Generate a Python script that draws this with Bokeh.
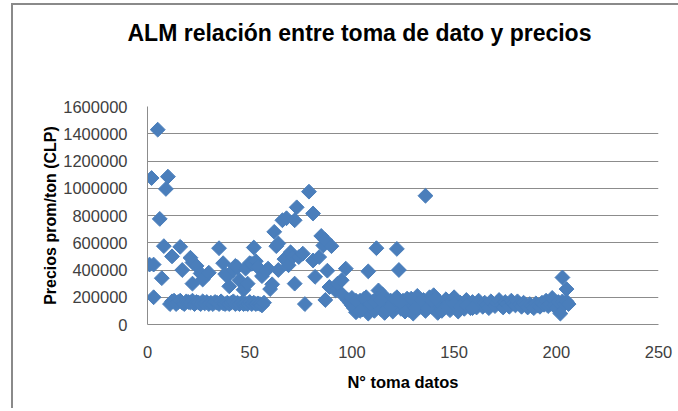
import math
from bokeh.plotting import figure
from bokeh.models import ColumnDataSource, FixedTicker, NumeralTickFormatter, Range1d, Title
from bokeh.embed import file_html
from bokeh.resources import INLINE

# --- data ---
# scattered points
toma_disp = [1, 2, 3, 3, 5, 6, 7, 8, 9, 10, 12, 16, 17, 21, 22, 22, 24, 26, 27, 30,
             35, 37, 38, 39, 40, 42, 43, 44, 45, 47, 48, 49, 50, 51, 52, 53, 54, 56, 58, 59,
             60, 61, 62, 63, 64, 64, 66, 67, 68, 69, 70, 71, 72, 72, 73, 74, 76, 77, 79, 81,
             81, 82, 84, 85, 86, 87, 87, 88, 89, 90, 92, 93, 95, 95, 97, 98, 99, 108, 112, 113,
             122, 123, 136, 203, 205]
precio_disp = [440000, 1075000, 440000, 200000, 1430000, 775000, 340000, 575000, 995000, 1085000,
               500000, 570000, 400000, 490000, 455000, 300000, 430000, 375000, 330000, 380000,
               560000, 450000, 370000, 355000, 280000, 400000, 430000, 420000, 325000, 255000,
               410000, 300000, 450000, 445000, 565000, 465000, 420000, 355000, 395000, 410000,
               260000, 295000, 680000, 575000, 595000, 400000, 765000, 480000, 780000, 435000,
               530000, 495000, 300000, 765000, 860000, 495000, 520000, 150000, 975000, 815000,
               470000, 350000, 495000, 650000, 580000, 620000, 180000, 395000, 275000, 575000,
               250000, 300000, 325000, 225000, 410000, 180000, 175000, 390000, 560000, 250000,
               555000, 400000, 945000, 345000, 260000]

# low band, first part
toma_banda1 = list(range(11, 58))
precio_banda1 = [150000, 170000, 175000, 150000, 165000, 175000, 160000, 150000, 170000, 165000,
                 160000, 175000, 150000, 165000, 160000, 150000, 170000, 155000, 165000, 150000,
                 160000, 150000, 165000, 160000, 150000, 170000, 155000, 150000, 160000, 150000,
                 160000, 170000, 150000, 160000, 150000, 160000, 150000, 155000, 150000, 165000,
                 150000, 160000, 150000, 155000, 150000, 140000, 160000]

# low band, second part
toma_banda2 = list(range(99, 207))
precio_banda2 = [160000, 195000, 120000, 90000, 150000, 175000, 110000, 140000, 200000, 80000,
                 130000, 165000, 100000, 190000, 145000, 115000, 220000, 85000, 150000, 120000,
                 175000, 95000, 140000, 200000, 160000, 115000, 175000, 130000, 190000, 105000,
                 150000, 80000, 170000, 210000, 125000, 145000, 180000, 100000, 160000, 200000,
                 130000, 215000, 110000, 85000, 165000, 140000, 120000, 185000, 150000, 105000,
                 170000, 200000, 130000, 95000, 160000, 140000, 115000, 180000, 150000, 120000,
                 165000, 140000, 125000, 175000, 150000, 130000, 160000, 145000, 120000, 170000,
                 155000, 135000, 160000, 180000, 140000, 125000, 165000, 150000, 130000, 175000,
                 155000, 140000, 170000, 150000, 130000, 160000, 145000, 125000, 150000, 135000,
                 120000, 155000, 140000, 130000, 160000, 145000, 175000, 135000, 150000, 195000,
                 140000, 120000, 165000, 80000, 170000, 150000, 170000, 150000]

toma_extra = [100, 102, 104, 106, 109, 111, 114, 117, 119, 121, 124, 126, 129, 131, 134, 137,
              139, 141, 144, 147, 150, 153, 156, 159]
precio_extra = [140000, 175000, 100000, 190000, 150000, 170000, 180000, 110000, 130000, 185000,
                155000, 95000, 190000, 120000, 175000, 120000, 175000, 190000, 100000, 125000,
                150000, 130000, 140000, 120000]

x_ticks = [0, 50, 100, 150, 200, 250]
y_ticks = [0, 200000, 400000, 600000, 800000, 1000000, 1200000, 1400000, 1600000]

titulo = "ALM relación entre toma de dato y precios"
eje_x = "N° toma datos"
eje_y = "Precios prom/ton (CLP)"

src = ColumnDataSource(dict(
    x=toma_disp + toma_banda1 + toma_banda2 + toma_extra,
    y=precio_disp + precio_banda1 + precio_banda2 + precio_extra,
))

GRID = "#8c8c8c"
FONT = "Liberation Sans"

p = figure(width=667, height=405, output_backend="svg", toolbar_location=None,
           x_range=Range1d(0, 250), y_range=Range1d(0, 1600000),
           min_border_left=134, min_border_right=22, min_border_top=101, min_border_bottom=86)
# chart-area frame: left and top edges are visible in the reference
p.styles = {"margin-left": "11px", "margin-top": "3px",
            "border-left": "2px solid #8a8a8a", "border-top": "2px solid #8a8a8a"}

# empty spacer between the plot frame and the title
p.add_layout(Title(text=" ", text_font_size="1px", standoff=58), "above")

p.title.text = titulo
p.title.align = "left"
p.title.offset = -20
p.title.standoff = 0
p.title.text_font = FONT
p.title.text_font_size = "23px"
p.title.text_font_style = "bold"
p.title.text_color = "#000000"

p.scatter(x="x", y="y", source=src, marker="square", size=10.5, angle=math.pi / 4,
          fill_color="#4A7EBB", line_color="#4A7EBB")

p.xgrid.visible = False
p.ygrid.grid_line_color = GRID
p.ygrid.ticker = FixedTicker(ticks=y_ticks)
p.outline_line_color = None
p.background_fill_color = "white"
p.border_fill_color = "white"

p.xaxis.ticker = FixedTicker(ticks=x_ticks)
p.yaxis.ticker = FixedTicker(ticks=y_ticks)
p.yaxis.formatter = NumeralTickFormatter(format="0")
for ax in (p.xaxis, p.yaxis):
    ax.axis_line_color = GRID
    ax.major_tick_line_color = None
    ax.minor_tick_line_color = None
    ax.major_tick_out = 0
    ax.major_tick_in = 0
    ax.major_label_text_font = FONT
    ax.major_label_text_font_size = "16.5px"
    ax.major_label_text_color = "#404040"
    ax.axis_label_text_font = FONT
    ax.axis_label_text_font_style = "bold"
    ax.axis_label_text_color = "#000000"

p.xaxis.axis_label = eje_x
p.yaxis.axis_label = eje_y
p.xaxis.axis_label_text_font_size = "16.5px"
p.yaxis.axis_label_text_font_size = "16px"
p.xaxis.major_label_standoff = 21
p.xaxis.axis_label_standoff = 12
p.yaxis.major_label_standoff = 20
p.yaxis.axis_label_standoff = 1

open("out.html", "w").write(file_html(p, INLINE))
